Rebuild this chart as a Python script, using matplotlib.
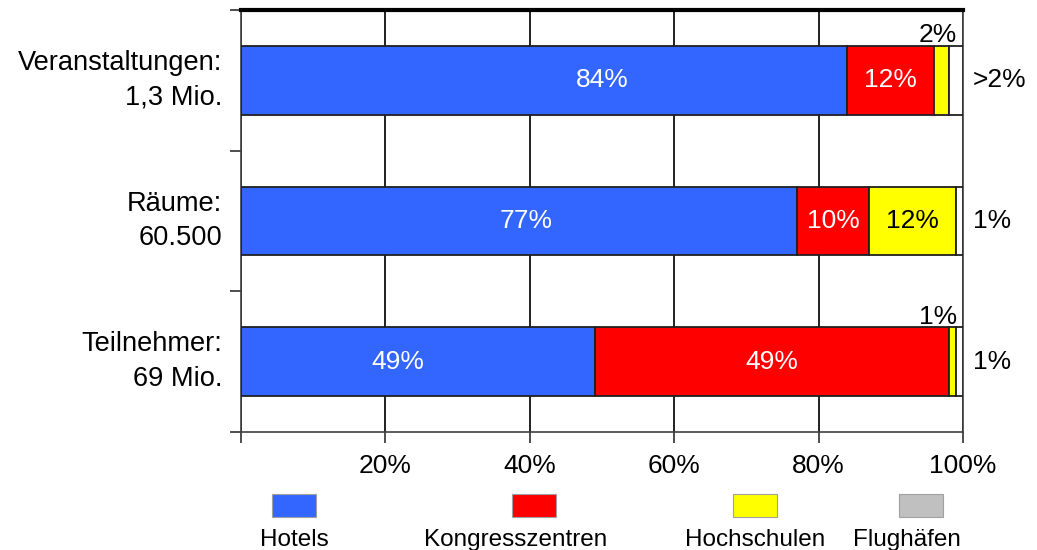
"""Stacked shares of venue types: events, rooms and participants."""

import matplotlib
matplotlib.use("Agg")
import matplotlib.pyplot as plt
from matplotlib.patches import Rectangle

plt.rcParams["font.family"] = ["Liberation Sans", "DejaVu Sans"]

# ---------------------------------------------------------------------------
# Data
# ---------------------------------------------------------------------------
categories = ["Veranstaltungen:\n1,3 Mio.", "Räume:\n60.500", "Teilnehmer:\n69 Mio."]
series_names = ["Hotels", "Kongresszentren", "Hochschulen", "Flughäfen"]
hotels = [84, 77, 49]
kongress = [12, 10, 49]
hochschulen = [2, 12, 1]
flughaefen = [2, 1, 1]
# text shown for the small segments
small_above = ["2%", None, "1%"]
small_right = [">2%", "1%", "1%"]
x_ticks = [20, 40, 60, 80, 100]

# ---------------------------------------------------------------------------
# Style
# ---------------------------------------------------------------------------
bar_colors = ["#3366FF", "#FF0000", "#FFFF00", "#FFFFFF"]
legend_colors = ["#3366FF", "#FF0000", "#FFFF00", "#C0C0C0"]
text_colors = ["white", "white", "black"]
hotel_label_x = [50, 39.5, 21.7]   # Hotels labels sit left of the segment centre
FS = 19

fig = plt.figure(figsize=(10.37, 5.5), dpi=100)
ax = fig.add_axes([0.2324, 0.2145, 0.6962, 0.7673])

series = [hotels, kongress, hochschulen, flughaefen]
y = list(range(len(categories)))
left = [0] * len(categories)
for s_idx, values in enumerate(series):
    ax.barh(y, values, left=left, height=0.49, color=bar_colors[s_idx],
            edgecolor="#202020", linewidth=1.3, zorder=3)
    if s_idx < 3:
        for i, v in enumerate(values):
            if v < 5:
                continue
            cx = hotel_label_x[i] if s_idx == 0 else left[i] + v / 2
            ax.text(cx, i, f"{v}%", ha="center", va="center", fontsize=FS,
                    color=text_colors[s_idx], zorder=4)
    left = [l + v for l, v in zip(left, values)]

# small-segment annotations
for i, txt in enumerate(small_above):
    if txt:
        ax.text(99.2, i - 0.27, txt, ha="right", va="baseline", fontsize=FS, zorder=4)
for i, txt in enumerate(small_right):
    ax.text(101.4, i, txt, ha="left", va="center", fontsize=FS, clip_on=False)

ax.set_xlim(0, 100)
ax.set_ylim(2.5, -0.5)
ax.set_xticks([0] + x_ticks)
ax.set_xticklabels([""] + [f"{t}%" for t in x_ticks], fontsize=FS)
ax.set_yticks([-0.5, 0.5, 1.5, 2.5])
ax.set_yticklabels([])
ax.tick_params(axis="both", direction="out", length=8, width=1.2, color="#303030")
ax.tick_params(axis="x", pad=8)
ax.xaxis.grid(True, color="#202020", linewidth=1.4, zorder=1)
ax.set_axisbelow(True)

for i, cat in enumerate(categories):
    ax.text(-2.6, i, cat, ha="right", va="center", fontsize=19.6,
            linespacing=1.42, transform=ax.transData)

ax.spines["top"].set_linewidth(3)
ax.spines["top"].set_color("black")
for side in ("left", "right", "bottom"):
    ax.spines[side].set_linewidth(1.2)
    ax.spines[side].set_color("#404040")

# legend: swatch with label underneath
swatch_x = [272, 512, 733, 899]
label_x = [294, 516, 755, 907]
for name, col, sx, lx in zip(series_names, legend_colors, swatch_x, label_x):
    fig.patches.append(Rectangle((sx / 1037, 1 - 517 / 550), 44 / 1037, 23 / 550,
                                 transform=fig.transFigure, facecolor=col,
                                 edgecolor="#A0A0A0", linewidth=0.8))
    fig.text(lx / 1037, 1 - 540 / 550, name, ha="center", va="center",
             fontsize=17.5)

fig.savefig("out.png", dpi=100)
